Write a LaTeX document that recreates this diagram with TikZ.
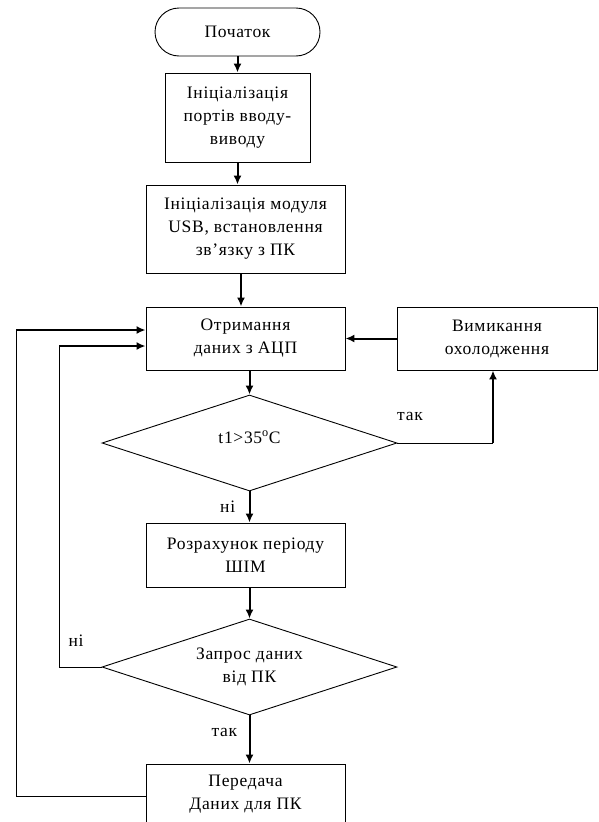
\documentclass[tikz,border=0pt]{standalone}
\usepackage{fontspec}
\setmainfont[LetterSpace=4]{Liberation Serif}
\usetikzlibrary{arrows.meta,shapes.geometric}

\begin{document}
\begin{tikzpicture}[x=1pt, y=-1pt,
	font=\fontsize{17.5}{23}\selectfont,
	block/.style={draw, line width=0.9pt, rectangle, align=center, inner sep=0pt},
	choice/.style={draw, line width=0.9pt, diamond, aspect=3.07, align=center, inner sep=0pt},
	flow/.style={line width=2pt, -{Latex[length=9pt,width=8pt]}},
	wire/.style={line width=0.9pt}]
%					% Page frame
					\clip (0,0) rectangle (598,822);
%					% Blocks
					\node[block, rounded corners=24pt, minimum width=165pt, minimum height=48pt] (start) at (237.5,32) {Початок};
					\node[block, minimum width=145pt, minimum height=89pt] (init) at (237.5,117.5) {Ініціалізація\\портів вводу-\\виводу};
					\node[block, minimum width=199pt, minimum height=88pt] (usb) at (245.5,229) {Ініціалізація модуля\\USB, встановлення\\зв’язку з ПК};
					\node[block, minimum width=199pt, minimum height=63pt] (adc) at (245.5,338.5) {Отримання\\даних з АЦП};
					\node[block, minimum width=200pt, minimum height=63pt] (cool) at (497,338.5) {Вимикання\\охолодження};
					\node[choice, minimum width=295pt, minimum height=96pt] (temp) at (249.5,443) {t1>35\textsuperscript{o}C\\[-11pt]};
					\node[block, minimum width=199pt, minimum height=64pt] (pwm) at (245.5,555) {Розрахунок періоду\\ШІМ};
					\node[choice, minimum width=295pt, minimum height=96pt] (req) at (249.5,667) {Запрос даних\\від ПК};
					\node[block, minimum width=199pt, minimum height=64pt] (send) at (245.5,796) {Передача\\Даних для ПК\\[-15pt]};
%					% Main flow
					\draw[flow] (start.south) -- (start.south |- init.north);
					\draw[flow] (init.south) -- (init.south |- usb.north);
					\draw[flow] ([xshift=-4.5pt]usb.south) -- ([xshift=-4.5pt]usb.south |- adc.north);
					\draw[flow] (adc.south -| temp.north) -- (temp.north);
					\draw[flow] (temp.south) -- (temp.south |- pwm.north) node[pos=0.5, left=10pt] {ні};
					\draw[flow] (pwm.south -| req.north) -- (req.north);
					\draw[flow] (req.south) -- (req.south |- send.north) node[pos=0.35, left=8pt] {так};
%					% Branch "так" to cooling
					\coordinate (yes1) at ([xshift=-4pt]cool.south |- temp.east);
					\draw[wire] (temp.east) -- (yes1);
					\draw[flow] (yes1) -- (yes1 |- cool.south);
					\node (yeslbl) at (410,416) {так};
					\draw[flow] (cool.west) -- (adc.east);
%					% Loop "ні" back to ADC
					\coordinate (no1) at (59,667);
					\coordinate (no2) at (59,346);
					\draw[wire] (req.west) -- (no1) -- (no2);
					\draw[flow] (no2) -- (no2 -| adc.west);
					\node (nolbl) at (76,641) {ні};
%					% Outer loop after sending
					\coordinate (back1) at (16,796);
					\coordinate (back2) at (16,330);
					\draw[wire] (send.west) -- (back1) -- (back2);
					\draw[flow] (back2) -- (back2 -| adc.west);
\end{tikzpicture}
\end{document}
